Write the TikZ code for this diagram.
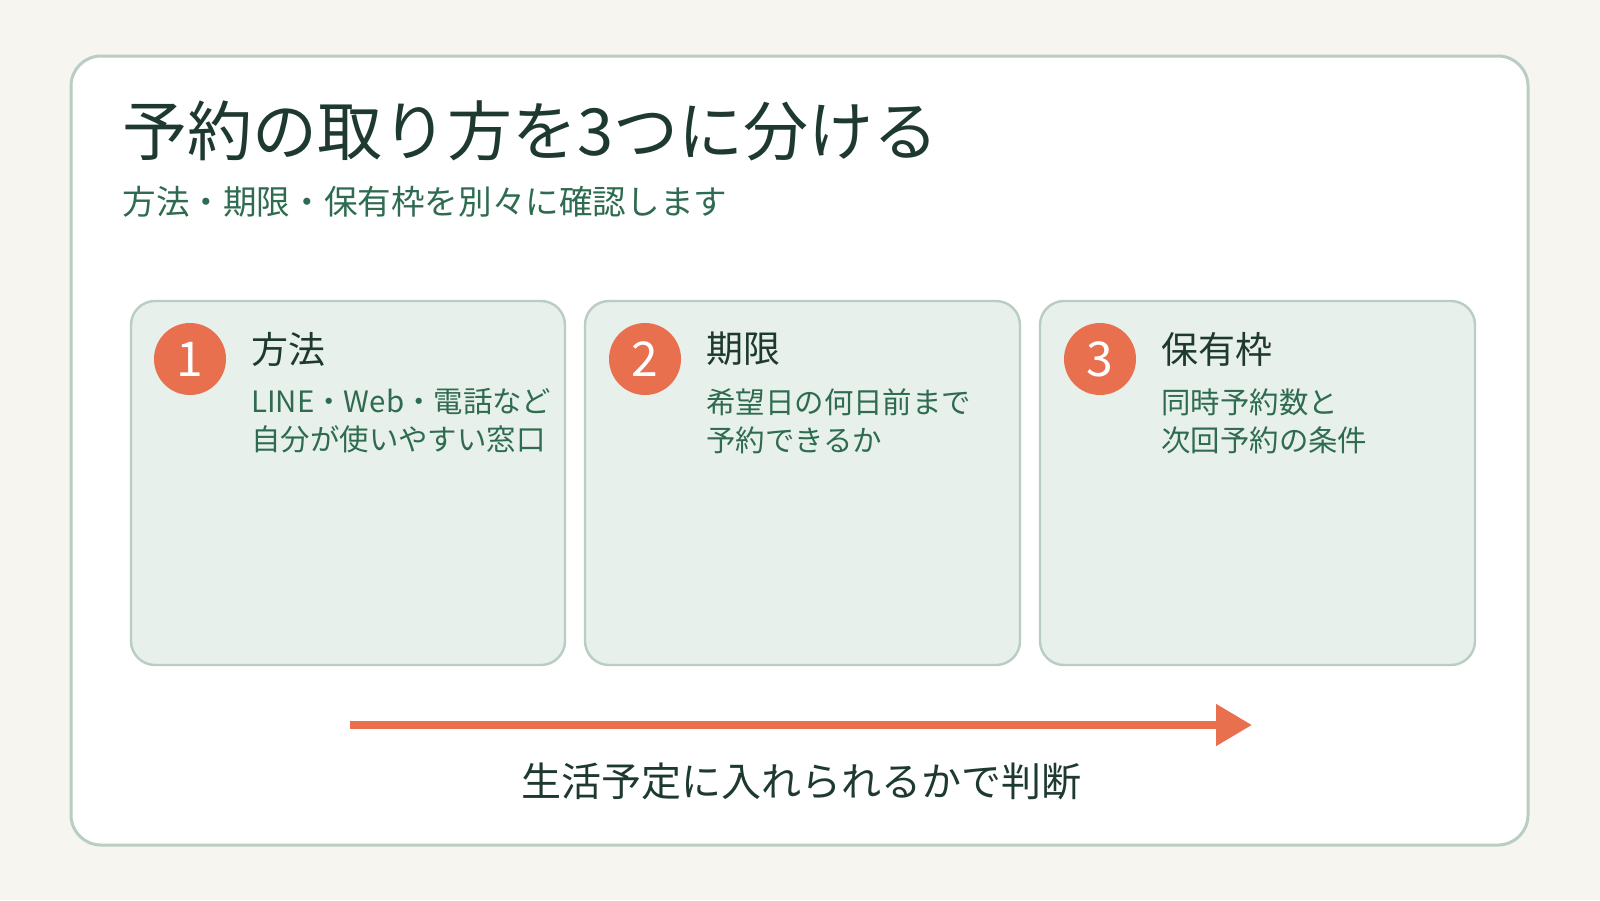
\documentclass[tikz,border=0pt]{standalone}
\usepackage{fontspec}
\setmainfont{Noto Sans CJK JP}
\usetikzlibrary{positioning,arrows.meta}
\definecolor{bgcol}{HTML}{F6F5F0}
\definecolor{framecol}{HTML}{B9CDC3}
\definecolor{cardcol}{HTML}{E7F0EA}
\definecolor{accent}{HTML}{E8704F}
\definecolor{darktext}{HTML}{1E3A30}
\definecolor{subtext}{HTML}{2E6B50}
\tikzset{
  card/.style={draw=framecol, line width=1.2pt, fill=cardcol, rounded corners=12pt},
  badge/.style={circle, fill=accent, text=white, minimum size=36pt, inner sep=0pt, font=\fontsize{24}{24}\selectfont},
  head/.style={anchor=west, inner sep=0pt, text=darktext, font=\fontsize{18.5}{18.5}\selectfont},
  body/.style={anchor=north west, inner sep=0pt, text=subtext, align=left, font=\fontsize{14.7}{19}\selectfont}
}
\begin{document}
\begin{tikzpicture}[x=0.5pt,y=-0.5pt]
  \useasboundingbox[fill=bgcol] (0,0) rectangle (1600,900);
  \draw[draw=framecol, line width=1.5pt, fill=white, rounded corners=15pt] (71,56) rectangle (1528,845);
  \node[anchor=west, inner sep=0pt, text=darktext, font=\fontsize{32.5}{32.5}\selectfont] (title) at (122,131) {予約の取り方を3つに分ける};
  \node[anchor=west, inner sep=0pt, text=subtext, font=\fontsize{16.8}{16.8}\selectfont] (subtitle) at (122,202) {方法・期限・保有枠を別々に確認します};
  % cards
  \draw[card] (131,301) rectangle (565,665);
  \draw[card] (585,301) rectangle (1020,665);
  \draw[card] (1040,301) rectangle (1475,665);
  \node[badge] (b1) at (190,359) {1};
  \node[badge] (b2) at (645,359) {2};
  \node[badge] (b3) at (1100,359) {3};
  \node[head] (h1) at (251,349) {方法};
  \node[head] (h2) at (706,349) {期限};
  \node[head] (h3) at (1161,349) {保有枠};
  \node[body] (t1) at (251,388) {LINE・Web・電話など\\自分が使いやすい窓口};
  \node[body] (t2) at (706,388) {希望日の何日前まで\\予約できるか};
  \node[body] (t3) at (1161,388) {同時予約数と\\次回予約の条件};
  % flow
  \coordinate (from) at (350,725);
  \coordinate (to) at (1252,725);
  \draw[accent, line width=4pt, -{Triangle[length=18pt,width=20pt]}] (from) -- (to);
  \node[inner sep=0pt, text=darktext, font=\fontsize{20}{20}\selectfont] (caption) at (801,781) {生活予定に入れられるかで判断};
\end{tikzpicture}
\end{document}
